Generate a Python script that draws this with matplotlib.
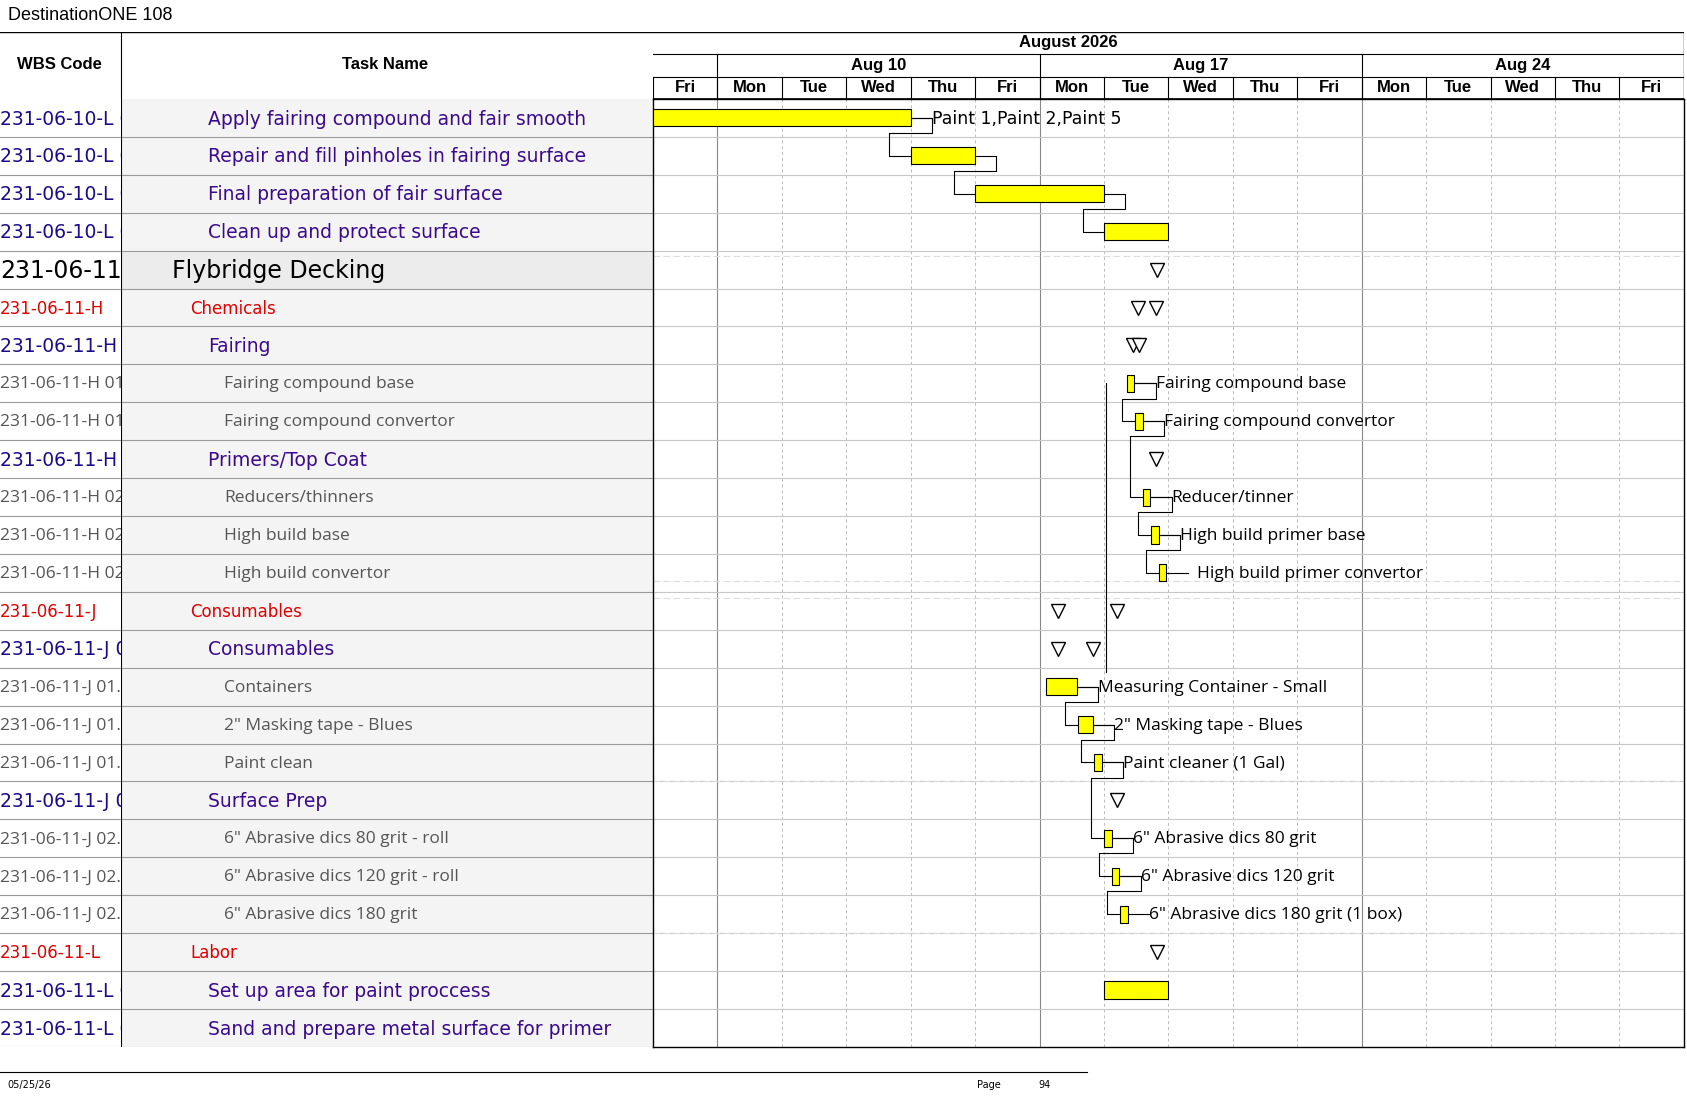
import matplotlib
matplotlib.use("Agg")
import matplotlib.pyplot as plt
from matplotlib.patches import Rectangle

W, H = 1568.0, 1019.6
fig = plt.figure(figsize=(16.87, 10.97), dpi=100)

def ax_at(x0, y0, x1, y1):
    return fig.add_axes([x0 / W, 1 - y1 / H, (x1 - x0) / W, (y1 - y0) / H])

# ---------------- data ----------------
wbs = ["231-06-10-L 01", "231-06-10-L 02", "231-06-10-L 03", "231-06-10-L 04", "231-06-11",
       "231-06-11-H", "231-06-11-H 01", "231-06-11-H 01.1", "231-06-11-H 01.2", "231-06-11-H 02",
       "231-06-11-H 02.1", "231-06-11-H 02.2", "231-06-11-H 02.3", "231-06-11-J", "231-06-11-J 01",
       "231-06-11-J 01.1", "231-06-11-J 01.2", "231-06-11-J 01.3", "231-06-11-J 02", "231-06-11-J 02.1",
       "231-06-11-J 02.2", "231-06-11-J 02.3", "231-06-11-L", "231-06-11-L 01", "231-06-11-L 02"]
tasks = ["Apply fairing compound and fair smooth", "Repair and fill pinholes in fairing surface",
         "Final preparation of fair surface", "Clean up and protect surface", "Flybridge Decking",
         "Chemicals", "Fairing", "Fairing compound base", "Fairing compound convertor",
         "Primers/Top Coat", "Reducers/thinners", "High build base", "High build convertor",
         "Consumables", "Consumables", "Containers", "2\" Masking tape - Blues", "Paint clean",
         "Surface Prep", "6\" Abrasive dics 80 grit - roll", "6\" Abrasive dics 120 grit - roll",
         "6\" Abrasive dics 180 grit", "Labor", "Set up area for paint proccess",
         "Sand and prepare metal surface for primer"]
# level: 0 top summary, 1 red group, 2 purple task, 3 grey item
levels = [2, 2, 2, 2, 0, 1, 2, 3, 3, 2, 3, 3, 3, 1, 2, 3, 3, 3, 2, 3, 3, 3, 1, 2, 2]

bar_rows = [0, 1, 2, 3, 7, 8, 10, 11, 12, 15, 16, 17, 19, 20, 21, 23]
bar_start = [0.0, 4.0, 5.0, 7.0, 7.35, 7.48, 7.6, 7.73, 7.85, 6.1, 6.6, 6.85, 7.0, 7.12, 7.25, 7.0]
bar_end = [4.0, 5.0, 7.0, 8.0, 7.47, 7.6, 7.72, 7.85, 7.97, 6.58, 6.83, 6.97, 7.12, 7.24, 7.37, 8.0]
bar_label = ["Paint 1,Paint 2,Paint 5", "", "", "", "Fairing compound base", "Fairing compound convertor",
             "Reducer/tinner", "High build primer base", "  High build primer convertor",
             "Measuring Container - Small", "2\" Masking tape - Blues", "Paint cleaner (1 Gal)",
             "6\" Abrasive dics 80 grit", "6\" Abrasive dics 120 grit", "6\" Abrasive dics 180 grit (1 box)", ""]
chains = [[0, 1, 2, 3], [4, 5, 6, 7, 8], [9, 10, 11, 12, 13, 14]]
chain_off = [0.33, 0.2, 0.2]
tri_rows = [4, 5, 5, 6, 6, 9, 13, 13, 14, 14, 18, 22]
tri_pos = [7.83, 7.53, 7.8, 7.45, 7.55, 7.8, 6.28, 7.2, 6.28, 6.83, 7.2, 7.83]

day_names = ["Fri", "Mon", "Tue", "Wed", "Thu", "Fri", "Mon", "Tue", "Wed", "Thu", "Fri",
             "Mon", "Tue", "Wed", "Thu", "Fri"]
weeks = ["Aug 10", "Aug 17", "Aug 24"]
week_start = [1, 6, 11]
month = "August 2026"

N = len(wbs)
TOP, BOT = 92, 973
purple = "#3a0a8c"
grey = "#555555"
HF = "Liberation Sans"

fig.text(7 / W, 1 - 14 / H, "DestinationONE 108", fontsize=13, va="center", family=HF)
fig.add_artist(plt.Line2D([0, 1010 / W], [1 - 996 / H] * 2, color="black", lw=0.8))
fig.text(7 / W, 1 - 1008 / H, "05/25/26", fontsize=7, va="center")
fig.text(908 / W, 1 - 1008 / H, "Page", fontsize=7, va="center")
fig.text(965 / W, 1 - 1008 / H, "94", fontsize=7, va="center")

# ---------------- left table ----------------
axw = ax_at(0, TOP, 112, BOT)
axt = ax_at(112, TOP, 607, BOT)
for a, xr in ((axw, 112), (axt, 495)):
    a.set_xlim(0, xr); a.set_ylim(N - 0.5, -0.5); a.axis("off")
for i in range(N):
    axt.add_patch(Rectangle((0, i - 0.5), 495, 1, fc="#f4f4f4" if levels[i] else "#ececec", ec="none"))
    for a, xr in ((axw, 112), (axt, 495)):
        a.plot([0, xr], [i + 0.5, i + 0.5], color="#9a9a9a", lw=0.8)
    lv = levels[i]
    if lv == 0:
        st = dict(color="black", fontsize=17, family="DejaVu Sans"); ind = 48
    elif lv == 1:
        st = dict(color="#e00000", fontsize=12, family="DejaVu Sans"); ind = 65
    elif lv == 2:
        st = dict(color=purple, fontsize=13.5, family="DejaVu Sans"); ind = 81
    else:
        st = dict(color=grey, fontsize=12.5, family="Open Sans"); ind = 96
    wst = dict(st)
    if lv == 2:
        wst["color"] = "#1a0a8c"
    axw.text(0, i + 0.03, wbs[i], va="center", ha="left", clip_on=True, **wst)
    axt.text(ind, i + 0.03, tasks[i], va="center", ha="left", **st)
axt.axvline(0, color="black", lw=0.8)

axh = ax_at(0, 30, 607, TOP)
axh.set_xlim(0, 607); axh.set_ylim(62, 0); axh.axis("off")
axh.plot([0, 607], [0, 0], color="black", lw=1)
axh.plot([112, 112], [0, 62], color="black", lw=0.8)
axh.text(55, 30, "WBS Code", ha="center", va="center", fontsize=12, weight="bold", family=HF)
axh.text(358, 30, "Task Name", ha="center", va="center", fontsize=12, weight="bold", family=HF)

# ---------------- timescale header ----------------
axd = ax_at(607, 30, 1565, TOP)
axd.set_xlim(0, 16); axd.set_ylim(3, 0); axd.axis("off")
axd.plot([0, 16], [0, 0], color="black", lw=1)
axd.plot([0, 16], [0.97, 0.97], color="black", lw=0.8)
axd.plot([0, 16], [2.0, 2.0], color="black", lw=0.8)
axd.plot([0, 16], [3, 3], color="black", lw=1.2)
axd.text(6.45, 0.48, month, ha="center", va="center", fontsize=12, weight="bold", family=HF)
for ws, wn in zip(week_start, weeks):
    axd.plot([ws, ws], [0.97, 3], color="black", lw=0.8)
    axd.text(ws + 2.5, 1.5, wn, ha="center", va="center", fontsize=12, weight="bold", family=HF)
for d, dn in enumerate(day_names):
    axd.plot([d, d], [2.0, 3], color="black", lw=0.8)
    axd.text(d + 0.5, 2.5, dn, ha="center", va="center", fontsize=12, weight="bold", family=HF)
axd.plot([16, 16], [0, 3], color="black", lw=1)

# ---------------- gantt ----------------
axg = ax_at(607, TOP, 1565, BOT)
axg.set_xlim(0, 16); axg.set_ylim(N - 0.5, -0.5)
axg.set_xticks([]); axg.set_yticks([])
for sp in axg.spines.values():
    sp.set_color("black"); sp.set_linewidth(1)
for d in range(1, 16):
    if d in week_start:
        axg.axvline(d, color="#888888", lw=0.8)
    else:
        axg.axvline(d, color="#bbbbbb", lw=0.7, ls=(0, (3, 3)))
for i in range(N - 1):
    axg.axhline(i + 0.5, color="#c8c8c8", lw=0.8)
for r in (3.65, 12.2, 12.65, 17.5, 21.5):
    axg.plot([0, 16], [r, r], color="#dddddd", lw=0.8, ls=(0, (6, 3)))

for r, s, e, lab in zip(bar_rows, bar_start, bar_end, bar_label):
    axg.barh(r, e - s, left=s, height=0.45, color="#ffff00", edgecolor="black", lw=0.8, zorder=3)
    if lab:
        axg.plot([e, e + 0.33], [r, r], color="black", lw=0.8, zorder=2)
        axg.text(e + 0.33, r + 0.03, lab, va="center", ha="left", fontsize=12.5,
                 family="Open Sans" if r > 3 else "DejaVu Sans", zorder=4)

for ch, off in zip(chains, chain_off):
    for a, b in zip(ch[:-1], ch[1:]):
        ra, rb = bar_rows[a], bar_rows[b]
        e, s = bar_end[a], bar_start[b]
        xs = [e, e + 0.33, e + 0.33, s - off, s - off, s]
        ys = [ra, ra, ra + 0.4, ra + 0.4, rb, rb]
        axg.plot(xs, ys, color="black", lw=0.8, zorder=2)
axg.plot([7.03, 7.03], [7.0, 14.6], color="black", lw=0.8, zorder=2)

axg.plot(tri_pos, tri_rows, ls="none", marker="v", ms=10, mfc="white", mec="black", mew=1, zorder=4)

fig.savefig("out.png", dpi=100)
